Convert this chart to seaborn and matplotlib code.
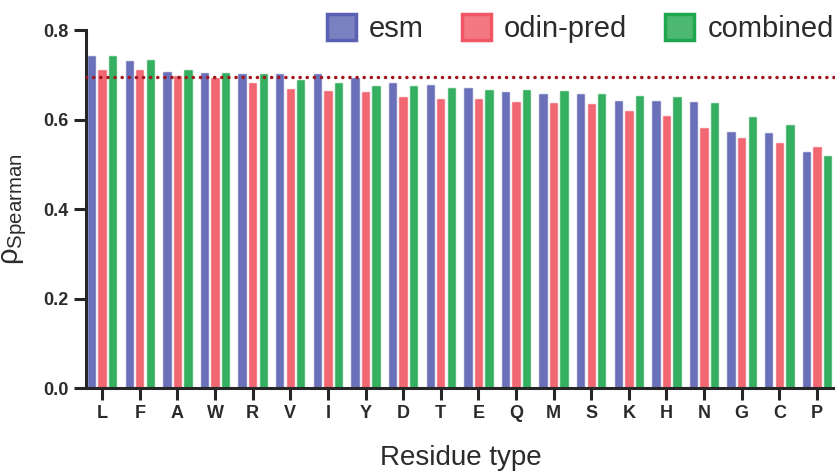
import matplotlib
matplotlib.use("Agg")
import matplotlib.pyplot as plt
import matplotlib.colors as mcolors
from matplotlib.patches import Patch
import seaborn as sns
import pandas as pd

residues = ["L", "F", "A", "W", "R", "V", "I", "Y", "D", "T",
            "E", "Q", "M", "S", "K", "H", "N", "G", "C", "P"]
esm = [0.743, 0.731, 0.706, 0.704, 0.703, 0.703, 0.701, 0.694, 0.681, 0.677,
       0.670, 0.661, 0.658, 0.658, 0.641, 0.641, 0.640, 0.573, 0.570, 0.528]
odin_pred = [0.712, 0.711, 0.697, 0.693, 0.682, 0.668, 0.665, 0.661, 0.651, 0.645,
             0.645, 0.640, 0.638, 0.635, 0.620, 0.608, 0.582, 0.559, 0.547, 0.538]
combined = [0.743, 0.734, 0.712, 0.705, 0.702, 0.688, 0.682, 0.676, 0.676, 0.670,
            0.667, 0.666, 0.663, 0.658, 0.652, 0.650, 0.638, 0.606, 0.589, 0.519]
series_names = ["esm", "odin-pred", "combined"]
reference_level = 0.695
yticks = [0.0, 0.2, 0.4, 0.6, 0.8]

colors = {"esm": "#5a60b2", "odin-pred": "#f05663", "combined": "#1fa74f"}

df = pd.DataFrame({
    "residue": residues * 3,
    "method": sum([[n] * len(residues) for n in series_names], []),
    "rho": esm + odin_pred + combined,
})

sns.set_style("white")
plt.rcParams["font.family"] = ["Liberation Sans", "DejaVu Sans"]
plt.rcParams["mathtext.fontset"] = "custom"
plt.rcParams["mathtext.rm"] = "Liberation Sans"
plt.rcParams["mathtext.it"] = "Liberation Sans:italic"
plt.rcParams["mathtext.bf"] = "Liberation Sans:bold"

fig = plt.figure(figsize=(8.35, 4.71), dpi=100)
ax = fig.add_axes([0.103, 0.176, 0.897, 0.760])

sns.barplot(data=df, x="residue", y="rho", hue="method", order=residues,
            hue_order=series_names, palette=colors, width=0.84, gap=0.3,
            saturation=1, ax=ax, legend=False, errorbar=None)

for p in ax.patches:
    fc = mcolors.to_rgba(p.get_facecolor())
    p.set_edgecolor((fc[0], fc[1], fc[2], 0.5))
    p.set_facecolor((fc[0], fc[1], fc[2], 0.9))
    p.set_linewidth(1.0)

ax.axhline(reference_level, color="#a3151c", linestyle=(0, (0.05, 2.0)),
           linewidth=2.5, dash_capstyle="round", zorder=5)

ax.set_ylim(0, 0.8)
ax.set_xlim(-0.43, len(residues) - 0.52)
ax.set_yticks(yticks)
ax.set_yticklabels([f"{t:.1f}" for t in yticks])

for s in ["top", "right"]:
    ax.spines[s].set_visible(False)
for s in ["left", "bottom"]:
    ax.spines[s].set_linewidth(2.2)
    ax.spines[s].set_color("#262626")

ax.tick_params(axis="both", which="major", bottom=True, left=True,
               length=8.5, width=2.2, color="#262626", direction="out",
               labelsize=13, labelcolor="#2b2b2b", pad=4)
for lbl in ax.get_xticklabels() + ax.get_yticklabels():
    lbl.set_fontweight("bold")

ax.set_xlabel("Residue type", fontsize=20, color="#2b2b2b", labelpad=16)
ax.set_ylabel(r"ρ$_{\mathrm{Spearman}}$", fontsize=21, color="#2b2b2b", labelpad=10)

handles = []
for n in series_names:
    c = mcolors.to_rgba(colors[n])
    handles.append(Patch(facecolor=(c[0], c[1], c[2], 0.8), edgecolor=c[:3],
                         linewidth=2.5, label=n))
fig.legend(handles=handles, loc="center", bbox_to_anchor=(0.695, 0.94),
           ncol=3, frameon=False, fontsize=21, handlelength=1.0,
           handleheight=1.0, handletextpad=0.45, columnspacing=1.3,
           labelcolor="#2b2b2b")

fig.savefig("out.png", dpi=100)
